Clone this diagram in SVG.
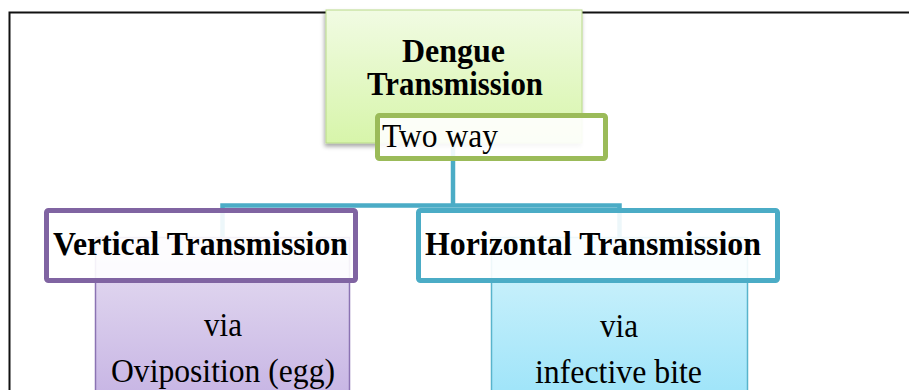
<svg xmlns="http://www.w3.org/2000/svg" width="909" height="390" viewBox="0 0 909 390">
  <defs>
    <linearGradient id="gGreen" x1="0" y1="0" x2="0" y2="1">
      <stop offset="0" stop-color="#F1FBE3"/>
      <stop offset="1" stop-color="#D7F5AA"/>
    </linearGradient>
    <linearGradient id="gPurple" x1="0" y1="0" x2="0" y2="1">
      <stop offset="0" stop-color="#E7DFF2"/>
      <stop offset="1" stop-color="#C7B5E4"/>
    </linearGradient>
    <linearGradient id="gTeal" x1="0" y1="0" x2="0" y2="1">
      <stop offset="0" stop-color="#D5F4FC"/>
      <stop offset="1" stop-color="#9EE4F9"/>
    </linearGradient>
    <filter id="shadow" x="-10%" y="-10%" width="120%" height="130%">
      <feDropShadow dx="-1" dy="3" stdDeviation="2" flood-color="#000" flood-opacity="0.35"/>
    </filter>
  </defs>
  <style>
    .bold { font-family: "Liberation Serif", "Times New Roman", serif; font-weight: bold; font-size: 33px; fill: #000; }
    .reg { font-family: "Liberation Serif", "Times New Roman", serif; font-size: 33px; fill: #000; }
    .sub { font-family: "Liberation Serif", "Times New Roman", serif; font-size: 33px; fill: #000; }
    .conn { fill: none; stroke: #4BACC6; stroke-width: 4.5; }
    .label { fill: #FFFFFF; fill-opacity: 0.9; stroke-width: 5; }
  </style>

  <rect x="0" y="0" width="909" height="390" fill="#FFFFFF"/>

  <!-- outer frame -->
  <g id="frame">
    <path d="M9.5 390 V12.5 H909" fill="none" stroke="#111" stroke-width="2"/>
  </g>

  <!-- connectors -->
  <g id="connectors">
    <path class="conn" d="M453 143 V205.5"/>
    <path class="conn" d="M222.5 237 V205.5 H619.5 V237"/>
  </g>

  <!-- root node -->
  <g id="node-root">
    <rect x="326" y="10" width="256" height="133" fill="url(#gGreen)" stroke="#B9D98A" stroke-width="1" filter="url(#shadow)"/>
    <text class="bold" x="402" y="62" textLength="103" lengthAdjust="spacingAndGlyphs">Dengue</text>
    <text class="bold" x="367" y="95" textLength="176" lengthAdjust="spacingAndGlyphs">Transmission</text>
  </g>
  <g id="node-twoway">
    <rect class="label" x="377.5" y="115.5" width="228" height="43" rx="2" stroke="#9BBB59"/>
    <text class="reg" x="382" y="147" textLength="116" lengthAdjust="spacingAndGlyphs">Two way</text>
  </g>

  <!-- child detail boxes -->
  <g id="node-vertical-detail">
    <rect x="95.5" y="237.5" width="254" height="160" fill="url(#gPurple)" stroke="#8B73B3" stroke-width="1.5"/>
    <text class="sub" x="204" y="336" textLength="38" lengthAdjust="spacingAndGlyphs">via</text>
    <text class="sub" x="111" y="382" textLength="224" lengthAdjust="spacingAndGlyphs">Oviposition (egg)</text>
  </g>
  <g id="node-horizontal-detail">
    <rect x="491.5" y="237.5" width="256" height="160" fill="url(#gTeal)" stroke="#58B4CC" stroke-width="1.5"/>
    <text class="sub" x="600" y="337" textLength="38" lengthAdjust="spacingAndGlyphs">via</text>
    <text class="sub" x="535" y="383" textLength="167" lengthAdjust="spacingAndGlyphs">infective bite</text>
  </g>

  <!-- title boxes -->
  <g id="node-vertical">
    <rect class="label" x="46.5" y="210.5" width="309" height="70" rx="2" stroke="#8064A2"/>
    <text class="bold" x="53" y="255" textLength="295" lengthAdjust="spacingAndGlyphs">Vertical Transmission</text>
  </g>
  <g id="node-horizontal">
    <rect class="label" x="418.5" y="210.5" width="359" height="70" rx="2" stroke="#4BACC6"/>
    <text class="bold" x="425" y="255" textLength="336" lengthAdjust="spacingAndGlyphs">Horizontal Transmission</text>
  </g>
</svg>
